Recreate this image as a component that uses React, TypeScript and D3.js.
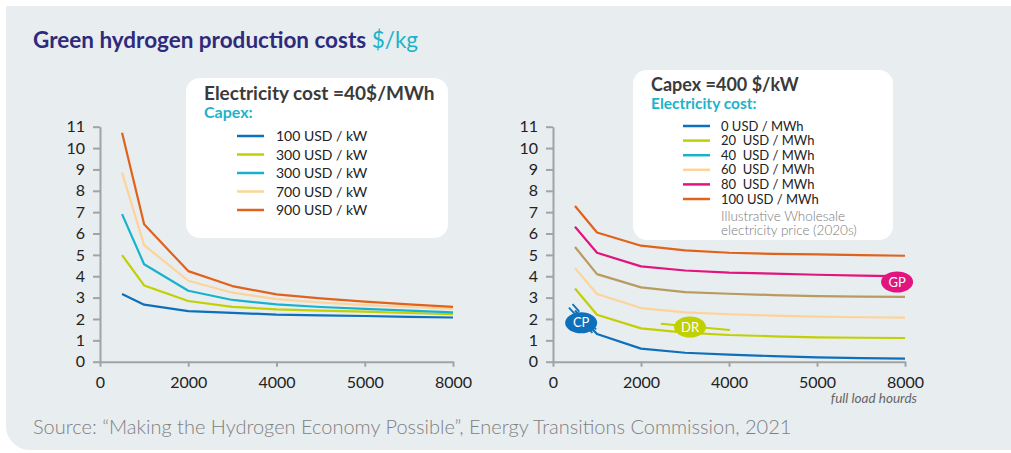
import React, { useEffect, useRef } from 'react';
import * as d3 from 'd3';

// full load hours at which the curves are sampled
const hours = [500, 1000, 2000, 3000, 4000, 5000, 6000, 7000, 8000];

// x ticks (the source labels the 6000 tick as "5000")
const xTickValues = [0, 2000, 4000, 6000, 8000];
const xTickLabels = ['0', '2000', '4000', '5000', '8000'];
const yTickValues = [0, 1, 2, 3, 4, 5, 6, 7, 8, 9, 10, 11];

// left panel: electricity at 40 $/MWh, varying capex
const leftLabels = ['100 USD / kW', '300 USD / kW', '300 USD / kW', '700 USD / kW', '900 USD / kW'];
const capex100 = [3.17, 2.67, 2.37, 2.29, 2.2, 2.17, 2.14, 2.1, 2.07];
const capex300a = [4.99, 3.57, 2.84, 2.57, 2.45, 2.39, 2.34, 2.28, 2.23];
const capex300b = [6.91, 4.56, 3.32, 2.89, 2.68, 2.56, 2.47, 2.39, 2.31];
const capex700 = [8.85, 5.46, 3.79, 3.23, 2.93, 2.77, 2.65, 2.56, 2.47];
const capex900 = [10.72, 6.43, 4.24, 3.54, 3.15, 2.96, 2.81, 2.68, 2.57];

// right panel: capex at 400 $/kW, varying electricity cost
const rightLabels = ['0 USD / MWh', '20  USD / MWh', '40  USD / MWh', '60  USD / MWh', '80  USD / MWh', '100 USD / MWh'];
const elec0 = [2.4, 1.3, 0.61, 0.42, 0.33, 0.26, 0.2, 0.17, 0.14];
const elec20 = [3.43, 2.2, 1.56, 1.36, 1.25, 1.19, 1.14, 1.12, 1.11];
const elec40 = [4.38, 3.17, 2.51, 2.31, 2.22, 2.16, 2.11, 2.08, 2.06];
const elec60 = [5.37, 4.1, 3.48, 3.26, 3.18, 3.12, 3.07, 3.05, 3.03];
const elec80 = [6.32, 5.1, 4.46, 4.27, 4.17, 4.12, 4.07, 4.03, 3.99];
const elec100 = [7.29, 6.05, 5.43, 5.21, 5.1, 5.05, 5.02, 4.99, 4.96];

const C = {
  blue: '#0e6fba',
  lime: '#c1d000',
  cyan: '#19b2cc',
  peach: '#fdd39a',
  orange: '#e0621b',
  magenta: '#e2147d',
  tan: '#b89b5e',
  navy: '#2f2a7b',
  cyanText: '#1db3c9',
  panel: '#e8edf0',
  axis: '#a3a3a3',
};

const leftSeries = [
  { values: capex100, color: C.blue },
  { values: capex300a, color: C.lime },
  { values: capex300b, color: C.cyan },
  { values: capex700, color: C.peach },
  { values: capex900, color: C.orange },
];
const leftLegendColors = [C.blue, C.lime, C.cyan, C.peach, C.orange];

const rightSeries = [
  { values: elec0, color: C.blue },
  { values: elec20, color: C.lime },
  { values: elec40, color: C.peach },
  { values: elec60, color: C.tan },
  { values: elec80, color: C.magenta },
  { values: elec100, color: C.orange },
];
const rightLegendColors = [C.blue, C.lime, C.cyan, C.peach, C.magenta, C.orange];

const FONT = 'Lato, "Noto Sans", sans-serif';

const yScale = d3.scaleLinear().domain([0, 11]).range([361.7, 126.7]);
const xLeft = d3.scaleLinear().domain([0, 8000]).range([100, 453]);
const xRight = d3.scaleLinear().domain([0, 8000]).range([553, 905]);

const Axes: React.FC<{ x: d3.ScaleLinear<number, number> }> = ({ x }) => {
  const yRef = useRef<SVGGElement>(null);
  const xRef = useRef<SVGGElement>(null);

  useEffect(() => {
    const gy = d3.select(yRef.current!);
    gy.selectAll('*').remove();
    gy.call(
      d3.axisLeft(yScale).tickValues(yTickValues).tickFormat(d3.format('d')).tickSize(7).tickSizeOuter(0).tickPadding(8)
    );
    const gx = d3.select(xRef.current!);
    gx.selectAll('*').remove();
    gx.call(
      d3.axisBottom(x).tickValues(xTickValues).tickFormat((_, i) => xTickLabels[i]).tickSize(5).tickSizeOuter(0).tickPadding(10)
    );
    [gy, gx].forEach(g => {
      g.select('.domain').attr('stroke', C.axis).attr('stroke-width', 2);
      g.selectAll('.tick line').attr('stroke', C.axis).attr('stroke-width', 2);
      g.selectAll('.tick text').attr('fill', '#222').attr('font-size', 16).attr('font-family', FONT);
    });
  }, [x]);

  return (
    <g>
      <g ref={yRef} transform={`translate(${x.range()[0]},0)`} />
      <g ref={xRef} transform={`translate(0,${yScale(0)})`} />
    </g>
  );
};

const Curves: React.FC<{ x: d3.ScaleLinear<number, number>; series: { values: number[]; color: string }[] }> = ({ x, series }) => {
  const line = d3.line<number>()
    .x((_, i) => x(hours[i]))
    .y(d => yScale(d));
  return (
    <g fill="none" strokeWidth={2.2} strokeLinejoin="round">
      {series.map((s, i) => (
        <path key={i} d={line(s.values) || ''} stroke={s.color} />
      ))}
    </g>
  );
};

const Badge: React.FC<{ cx: number; cy: number; color: string; label: string }> = ({ cx, cy, color, label }) => (
  <g>
    <ellipse cx={cx} cy={cy} rx={16} ry={10.5} fill={color} />
    <text x={cx} y={cy + 4.5} textAnchor="middle" fill="#fff" fontSize={13} fontFamily={FONT}>{label}</text>
  </g>
);

// double stroke "cable" marks along the CP line
const CableMark: React.FC<{ h: number; v: number }> = ({ h, v }) => {
  const px = xRight(h);
  const py = yScale(v);
  const dx = xRight(1000) - xRight(500);
  const dy = yScale(elec0[1]) - yScale(elec0[0]);
  const len = Math.hypot(dx, dy);
  const ux = dx / len, uy = dy / len;
  const nx = -uy, ny = ux;
  return (
    <g stroke={C.blue} strokeWidth={1.8}>
      {[-2.5, 2.5].map(o => (
        <line key={o} x1={px - ux * 5 + nx * o} y1={py - uy * 5 + ny * o} x2={px + ux * 5 + nx * o} y2={py + uy * 5 + ny * o} />
      ))}
    </g>
  );
};

const App: React.FC = () => {
  return (
    <div style={{ position: 'absolute', left: 0, top: 0 }}>
      <svg width={1011} height={453} style={{ display: 'block' }}>
        <rect width={1011} height={453} fill="#fff" />
        <path d="M6,6 H1011 V450 H30 A24,24 0 0 1 6,426 Z" fill={C.panel} />

        <text x={33} y={48} fontFamily={FONT} fontSize={22.5} fontWeight={700} fill={C.navy}>
          Green hydrogen production costs <tspan fill={C.cyanText} fontWeight={400}>$/kg</tspan>
        </text>

        {/* left legend */}
        <rect x={186} y={78} width={262} height={160} rx={14} fill="#fff" />
        <text x={204} y={100} fontFamily={FONT} fontSize={19} fontWeight={700} fill="#3a3a3a">Electricity cost =40$/MWh</text>
        <text x={204} y={118} fontFamily={FONT} fontSize={16} fontWeight={700} fill={C.cyanText}>Capex:</text>
        {leftLabels.map((l, i) => (
          <g key={i}>
            <line x1={237} x2={264} y1={136 + i * 18.5} y2={136 + i * 18.5} stroke={leftLegendColors[i]} strokeWidth={2.5} />
            <text x={276} y={141 + i * 18.5} fontFamily={FONT} fontSize={14} fill="#222">{l}</text>
          </g>
        ))}

        {/* right legend */}
        <rect x={633} y={70} width={260} height={170} rx={14} fill="#fff" />
        <text x={651} y={91} fontFamily={FONT} fontSize={18} fontWeight={700} fill="#3a3a3a">Capex =400 $/kW</text>
        <text x={651} y={108.5} fontFamily={FONT} fontSize={15.5} fontWeight={700} fill={C.cyanText}>Electricity cost:</text>
        {rightLabels.map((l, i) => (
          <g key={i}>
            <line x1={683} x2={710} y1={126 + i * 14.6} y2={126 + i * 14.6} stroke={rightLegendColors[i]} strokeWidth={2.5} />
            <text x={721} y={130.5 + i * 14.6} fontFamily={FONT} fontSize={13} fill="#222" style={{ whiteSpace: 'pre' }}>{l}</text>
          </g>
        ))}
        <text x={721} y={221} fontFamily={FONT} fontSize={13.5} fontWeight={300} fill="#7a7a7a">Illustrative Wholesale</text>
        <text x={721} y={235} fontFamily={FONT} fontSize={13.5} fontWeight={300} fill="#7a7a7a">electricity price (2020s)</text>

        <Axes x={xLeft} />
        <Axes x={xRight} />
        <Curves x={xLeft} series={leftSeries} />
        <Curves x={xRight} series={rightSeries} />

        {/* annotations */}
        <line x1={xRight(2450)} y1={yScale(1.78)} x2={xRight(4020)} y2={yScale(1.48)} stroke={C.lime} strokeWidth={2} />
        <Badge cx={xRight(3114)} cy={yScale(1.62)} color={C.lime} label="DR" />
        <CableMark h={480} v={2.44} />
        <CableMark h={860} v={1.6} />
        <Badge cx={xRight(640)} cy={yScale(1.82)} color={C.blue} label="CP" />
        <Badge cx={xRight(7820)} cy={yScale(3.73)} color={C.magenta} label="GP" />

        <text x={917} y={403} textAnchor="end" fontFamily={FONT} fontSize={13.5} fontStyle="italic" fill="#666">full load hourds</text>
        <text x={33} y={434} fontFamily={FONT} fontSize={20} fontWeight={300} fill="#808080">
          Source: “Making the Hydrogen Economy Possible”, Energy Transitions Commission, 2021
        </text>
      </svg>
    </div>
  );
};

export default App;
